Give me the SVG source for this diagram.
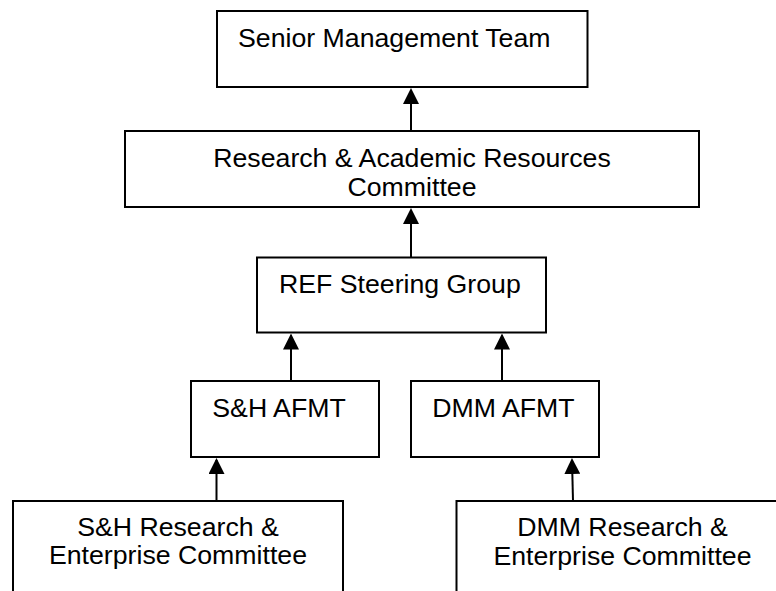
<svg xmlns="http://www.w3.org/2000/svg" width="776" height="591" viewBox="0 0 776 591">
<style>
.box{fill:#fff;stroke:#000;stroke-width:2}
.t{font-family:"Liberation Sans",Arial,sans-serif;font-size:26.7px;fill:#000}
.c{text-anchor:middle}
.conn{stroke:#000;stroke-width:2;fill:none;marker-end:url(#ah)}
</style>
<defs>
<marker id="ah" markerUnits="userSpaceOnUse" markerWidth="16" markerHeight="16" refX="14" refY="8" orient="auto">
<path d="M0,0 L16,8 L0,16 z" fill="#000"/>
</marker>
</defs>
<rect width="776" height="591" fill="#fff"/>
<g id="smt">
<rect class="box" x="217" y="11" width="370.5" height="76"/>
<text class="t" x="238" y="46.5">Senior Management Team</text>
</g>
<g id="rarc">
<rect class="box" x="125" y="131" width="574" height="76"/>
<text class="t c" x="412" y="167">Research &amp; Academic Resources</text>
<text class="t c" x="412" y="196">Committee</text>
</g>
<g id="ref">
<rect class="box" x="257" y="257.5" width="289" height="75"/>
<text class="t" x="279" y="292.5">REF Steering Group</text>
</g>
<g id="sh-afmt">
<rect class="box" x="191" y="381" width="188" height="76"/>
<text class="t" x="212.3" y="416.7">S&amp;H AFMT</text>
</g>
<g id="dmm-afmt">
<rect class="box" x="411" y="381" width="188" height="76"/>
<text class="t" x="432.3" y="416.7">DMM AFMT</text>
</g>
<g id="sh-rec">
<rect class="box" x="13" y="501" width="330" height="100"/>
<text class="t c" x="178" y="535.5">S&amp;H Research &amp;</text>
<text class="t c" x="178" y="564">Enterprise Committee</text>
</g>
<g id="dmm-rec">
<rect class="box" x="456.5" y="501" width="332" height="100"/>
<text class="t c" x="622.5" y="536">DMM Research &amp;</text>
<text class="t c" x="622.5" y="565">Enterprise Committee</text>
</g>
<g id="connectors">
<line class="conn" x1="411" y1="131" x2="411" y2="90"/>
<line class="conn" x1="411" y1="257" x2="411" y2="210"/>
<line class="conn" x1="291" y1="381" x2="291" y2="335.5"/>
<line class="conn" x1="502" y1="381" x2="502" y2="335.5"/>
<line class="conn" x1="216.5" y1="501" x2="216.5" y2="460"/>
<line class="conn" x1="573" y1="501" x2="572" y2="460"/>
</g>
</svg>
